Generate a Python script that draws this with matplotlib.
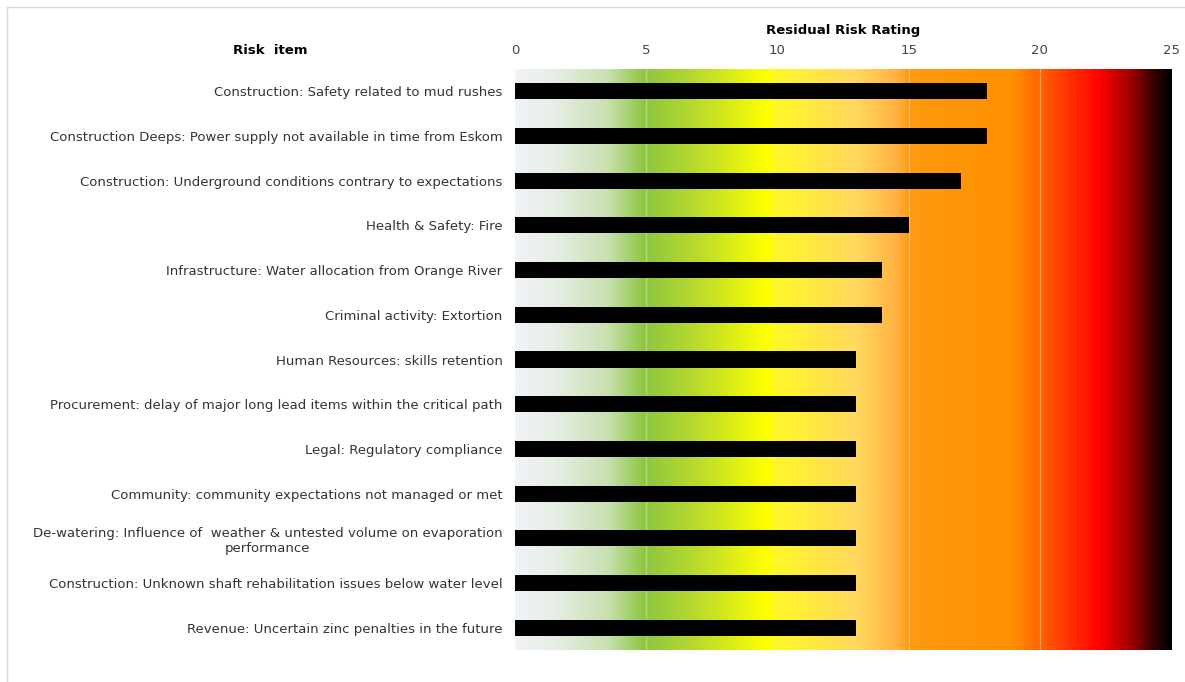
import numpy as np
import matplotlib.pyplot as plt
from matplotlib.colors import LinearSegmentedColormap
from matplotlib.lines import Line2D

# risk items, top to bottom
risk_items = [
    'Construction: Safety related to mud rushes',
    'Construction Deeps: Power supply not available in time from Eskom',
    'Construction: Underground conditions contrary to expectations',
    'Health & Safety: Fire',
    'Infrastructure: Water allocation from Orange River',
    'Criminal activity: Extortion',
    'Human Resources: skills retention',
    'Procurement: delay of major long lead items within the critical path',
    'Legal: Regulatory compliance',
    'Community: community expectations not managed or met',
    'De-watering: Influence of  weather & untested volume on evaporation\nperformance',
    'Construction: Unknown shaft rehabilitation issues below water level',
    'Revenue: Uncertain zinc penalties in the future',
]
residual_rating = [18, 18, 17, 15, 14, 14, 13, 13, 13, 13, 13, 13, 13]
x_ticks = [0, 5, 10, 15, 20, 25]

# background colour scale (rating, colour)
scale_stops = [
    (0.0, '#f0f3f7'), (1.5, '#e6eee4'), (3.5, '#c8e0b0'), (4.9, '#8dc640'),
    (7.0, '#bcdc2c'), (9.6, '#ffff00'), (10.2, '#fff42c'), (13.0, '#ffd860'),
    (14.6, '#ffb040'), (15.0, '#ff9a10'), (19.0, '#ff9000'), (20.0, '#ff6400'),
    (21.0, '#ff3800'), (22.3, '#ff0000'), (23.5, '#a00000'), (24.3, '#400000'),
    (25.0, '#000000'),
]

plt.rcParams['font.family'] = 'DejaVu Sans'
cmap = LinearSegmentedColormap.from_list(
    'risk', [(v / 25, c) for v, c in scale_stops])

fig = plt.figure(figsize=(11.85, 6.82), dpi=100)
ax = fig.add_axes([0.4346, 0.0469, 0.5536, 0.8519])

n = len(risk_items)
y = np.arange(n)
grad = np.linspace(0, 1, 600).reshape(1, -1)
ax.imshow(grad, cmap=cmap, aspect='auto', extent=[0, 25, n - 0.5, -0.5],
          zorder=0)
for t in x_ticks[1:-1]:
    ax.axvline(t, color='#e8e0d0', lw=1, alpha=0.5, zorder=1)

ax.barh(y, residual_rating, height=0.36, color='black', zorder=2)

ax.set_xlim(0, 25)
ax.set_ylim(n - 0.5, -0.5)
ax.set_yticks(y)
for lab in ax.set_yticklabels(risk_items, fontsize=9.5, color='#333333'):
    lab.set_multialignment('center')
ax.set_xticks(x_ticks)
ax.xaxis.tick_top()
ax.xaxis.set_label_position('top')
ax.tick_params(axis='x', length=0, pad=8.5, labelsize=9.5, labelcolor='#444444')
ax.tick_params(axis='y', length=0, pad=9)
ax.set_xlabel('Residual Risk Rating', fontsize=9.5, fontweight='bold', labelpad=7.5)
for s in ax.spines.values():
    s.set_visible(False)

fig.text(270 / 1185, 1 - 50 / 682, 'Risk  item', fontsize=9.5,
         fontweight='bold', ha='center', va='center')

# light frame around the chart
fig.add_artist(Line2D([7 / 1185, 1], [1 - 7 / 682] * 2, color='#d9d9d9', lw=1))
fig.add_artist(Line2D([7 / 1185] * 2, [0, 1 - 7 / 682], color='#d9d9d9', lw=1))

fig.savefig('out.png', dpi=100)
